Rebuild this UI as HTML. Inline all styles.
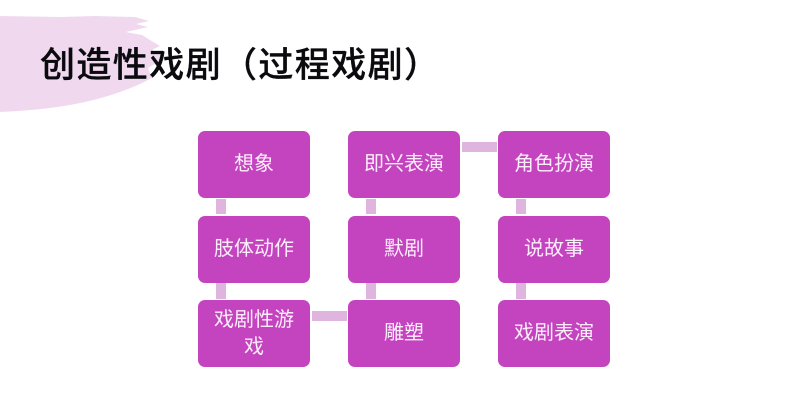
<!DOCTYPE html>
<html lang="zh">
<head>
<meta charset="utf-8">
<style>
html,body{margin:0;padding:0;background:#fff}
#c{position:relative;width:790px;height:417px;overflow:hidden;background:#fff;font-family:"Liberation Sans","Noto Sans CJK SC",sans-serif}
svg{position:absolute;left:0;top:0}
.t{position:absolute;left:40px;top:44px;font-size:35px;line-height:44px;font-weight:500;-webkit-text-stroke:0.3px #0b0b0f;color:#0b0b0f;letter-spacing:1.4px;white-space:nowrap;font-family:"Liberation Sans","Noto Sans CJK SC",sans-serif}
.n{position:absolute;width:112px;height:67px;background:#c444c0;border-radius:7px;color:#fbeefa;font-size:20px;line-height:27px;display:flex;align-items:center;justify-content:center;text-align:center;box-sizing:border-box;padding:0 9px;font-weight:400}
.l{position:absolute;background:#dfb4de}
</style>
</head>
<body>
<div id="c">
<svg width="790" height="417" viewBox="0 0 790 417">
<path fill="#f0d9ef" d="M0 16 L60 17 L95 16 L135 17 L149 21 L136 24 L148 27 L126 32 L142 35 L150 40 L160 46 L152 50 L165 56 L158 62 L148 68 L152 78 L140 84 Q100 102 50 108 Q25 111 0 112 Z"/>
</svg>
<div class="t">创造性戏剧（过程戏剧）</div>
<div class="l" style="left:216px;top:199px;width:10px;height:15px"></div>
<div class="l" style="left:216px;top:283px;width:10px;height:16px"></div>
<div class="l" style="left:312px;top:311px;width:35px;height:10px"></div>
<div class="l" style="left:366px;top:283px;width:10px;height:16px"></div>
<div class="l" style="left:366px;top:199px;width:10px;height:15px"></div>
<div class="l" style="left:462px;top:142px;width:35px;height:10px"></div>
<div class="l" style="left:516px;top:199px;width:10px;height:15px"></div>
<div class="l" style="left:516px;top:283px;width:10px;height:16px"></div>
<div class="n" style="left:198px;top:131px">想象</div>
<div class="n" style="left:198px;top:215.5px">肢体动作</div>
<div class="n" style="left:198px;top:300px">戏剧性游戏</div>
<div class="n" style="left:348px;top:131px">即兴表演</div>
<div class="n" style="left:348px;top:215.5px">默剧</div>
<div class="n" style="left:348px;top:300px">雕塑</div>
<div class="n" style="left:498px;top:131px">角色扮演</div>
<div class="n" style="left:498px;top:215.5px">说故事</div>
<div class="n" style="left:498px;top:300px">戏剧表演</div>
</div>
</body>
</html>
